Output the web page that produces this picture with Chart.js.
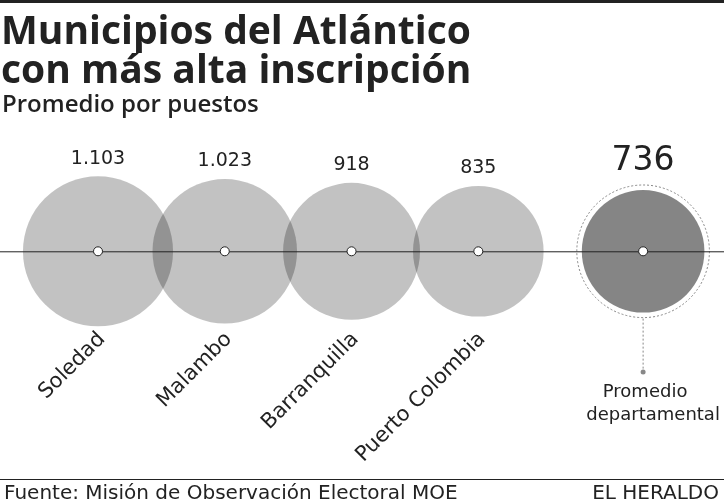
<!DOCTYPE html>
<html><head><meta charset="utf-8">
<script src="https://cdn.jsdelivr.net/npm/chart.js@4"></script>
<style>body{margin:0;background:#fff}canvas{display:block}</style>
</head><body>
<canvas id="c" width="724" height="504"></canvas>
<script>
// ---- data ----
const municipios=["Soledad","Malambo","Barranquilla","Puerto Colombia"];
const promedios=[1103,1023,918,835];
const valueLabels=["1.103","1.023","918","835"];
const departamental=736;
const departamentalLabel=["Promedio","departamental"];
const titulo=["Municipios del Atlántico","con más alta inscripción"];
const subtitulo="Promedio por puestos";
const fuente="Fuente: Misión de Observación Electoral MOE";
const firma="EL HERALDO";

const FONT='"Open Sans", sans-serif';
const WIDE='"DejaVu Sans", sans-serif';
const rad=v=>2.26*Math.sqrt(v);
const AXIS_Y=251;
const deptX=4.3;

const munPoints=promedios.map((v,i)=>({x:i,y:AXIS_Y,r:rad(v)}));
const deptPoint={x:deptX,y:AXIS_Y,r:rad(departamental)};

// ---- texts and guide lines ----
const decor={
  id:"decor",
  beforeDraw(chart){
    const c=chart.ctx;
    c.save();
    c.fillStyle="#fff";c.fillRect(0,0,chart.width,chart.height);
    c.fillStyle="#222";c.fillRect(0,0,chart.width,3);
    c.textBaseline="alphabetic";c.textAlign="left";
    c.font="bold 39px "+FONT;
    c.fillText(titulo[0],1,44);
    c.fillText(titulo[1],1,83);
    c.font="600 24px "+FONT;
    c.fillText(subtitulo,2,112);
    // dashed ring around departamental
    const xs=chart.scales.x,ys=chart.scales.y;
    const dx=xs.getPixelForValue(deptX),dy=ys.getPixelForValue(AXIS_Y),dr=rad(departamental);
    c.strokeStyle="#888";c.lineWidth=1;c.setLineDash([2,2]);
    c.beginPath();c.arc(dx,dy,dr+5,0,Math.PI*2);c.stroke();
    c.beginPath();c.moveTo(dx,dy+dr+6);c.lineTo(dx,372);c.stroke();
    c.setLineDash([]);
    c.fillStyle="#888";c.beginPath();c.arc(dx,372,2.5,0,Math.PI*2);c.fill();
    c.restore();
  },
  afterDatasetsDraw(chart){
    const c=chart.ctx,xs=chart.scales.x,ys=chart.scales.y;
    c.save();
    c.strokeStyle="#222";c.lineWidth=1;
    c.beginPath();c.moveTo(0,ys.getPixelForValue(AXIS_Y)+0.5);c.lineTo(chart.width,ys.getPixelForValue(AXIS_Y)+0.5);c.stroke();
    // center dots
    [...munPoints,deptPoint].forEach(p=>{
      c.fillStyle="#fff";c.beginPath();
      c.arc(xs.getPixelForValue(p.x),ys.getPixelForValue(p.y),4.5,0,Math.PI*2);c.fill();c.stroke();
    });
    c.fillStyle="#222";
    // values above
    c.textAlign="center";c.textBaseline="bottom";c.font="19px "+WIDE;
    munPoints.forEach((p,i)=>{
      c.fillText(valueLabels[i],xs.getPixelForValue(p.x),ys.getPixelForValue(p.y)-p.r-8);
    });
    c.font="33px "+WIDE;
    c.fillText(String(departamental),xs.getPixelForValue(deptX),ys.getPixelForValue(AXIS_Y)-deptPoint.r-12);
    // rotated names
    c.font="21px "+WIDE;c.textAlign="right";c.textBaseline="middle";
    munPoints.forEach((p,i)=>{
      c.save();
      c.translate(xs.getPixelForValue(p.x)+4,336);
      c.rotate(-Math.PI/4);
      c.fillText(municipios[i],0,0);
      c.restore();
    });
    c.textAlign="center";c.textBaseline="alphabetic";c.font="18px "+WIDE;
    c.fillText(departamentalLabel[0],xs.getPixelForValue(deptX)+2,397);
    c.fillText(departamentalLabel[1],xs.getPixelForValue(deptX)+10,420);
    // footer
    c.fillRect(0,479,chart.width,1);
    c.font="20px "+WIDE;c.textAlign="left";
    c.fillText(fuente,4,499);
    c.textAlign="right";
    c.fillText(firma,719,499);
    c.restore();
  }
};

new Chart(document.getElementById("c"),{
  type:"bubble",
  data:{datasets:[
    {data:munPoints,backgroundColor:"rgba(0,0,0,0.24)",borderWidth:0,hoverRadius:0,clip:false},
    {data:[deptPoint],backgroundColor:"#858585",borderWidth:0,hoverRadius:0,clip:false}
  ]},
  options:{
    responsive:false,animation:false,
    layout:{padding:0},
    plugins:{legend:{display:false},tooltip:{enabled:false}},
    scales:{
      x:{type:"linear",display:false,min:-0.181,max:4.346},
      y:{type:"linear",display:false,min:0,max:504,reverse:true}
    }
  },
  plugins:[decor]
});
</script>
</body></html>
